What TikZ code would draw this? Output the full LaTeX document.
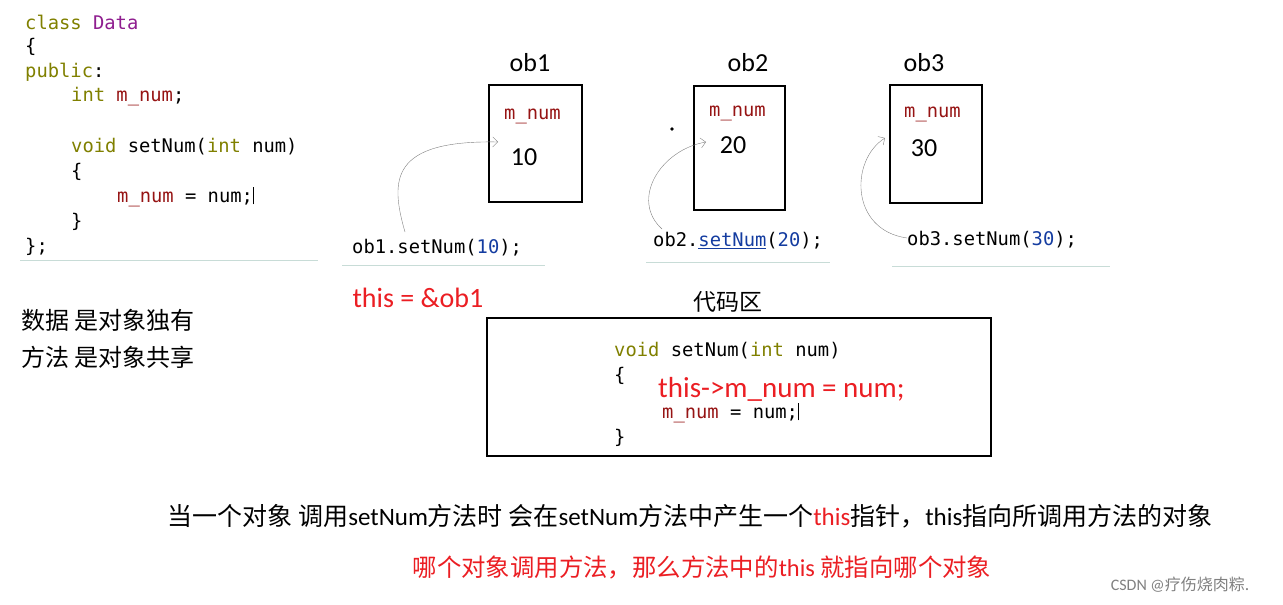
\documentclass[tikz,border=0pt]{standalone}
\usepackage{fontspec}
\setmainfont{Carlito}
\setmonofont{DejaVu Sans Mono}
\newfontfamily\cjk{Noto Sans CJK SC}
\usetikzlibrary{arrows.meta}
\definecolor{kw}{RGB}{128,128,0}
\definecolor{cls}{RGB}{143,30,143}
\definecolor{var}{RGB}{150,20,20}
\definecolor{lit}{RGB}{20,60,160}
\definecolor{hl}{RGB}{235,30,35}
\definecolor{rule}{RGB}{200,220,215}
\newcommand{\cf}{\ttfamily\fontsize{18.8pt}{18.8pt}\selectfont}
\newcommand{\zh}[1]{{\cjk #1}}
\begin{document}
\begin{tikzpicture}[x=1pt,y=-1pt]
\tikzset{
  code/.style={anchor=west,inner sep=0pt,font=\cf},
  obj/.style={draw,line width=1.6pt},
  title/.style={font=\fontsize{26pt}{26pt}\selectfont},
  call/.style={draw=gray,thin,-{Straight Barb[length=5pt]}},
  under/.style={draw=rule,line width=1pt}}
\useasboundingbox (0,0) rectangle (1283,605);
% class code
\node[code] (c1) at (25,22) {\textcolor{kw}{class} \textcolor{cls}{Data}};
\node[code] (c2) at (25,47) {\{};
\node[code] (c3) at (25,72) {\textcolor{kw}{public}:};
\node[code] (c4) at (71,97) {\textcolor{kw}{int} \textcolor{var}{m\_num};};
\node[code] (c5) at (71,147) {\textcolor{kw}{void} setNum(\textcolor{kw}{int} num)};
\node[code] (c6) at (71,172) {\{};
\node[code] (c7) at (117,197) {\textcolor{var}{m\_num} = num;\rule[-2pt]{1pt}{17pt}};
\node[code] (c8) at (71,222) {\}};
\node[code] (c9) at (25,247) {\};};
\coordinate (u1) at (20,260); \coordinate (u2) at (318,260);
\draw[under] (u1) -- (u2);
% objects
\node[obj,minimum width=93pt,minimum height=117pt] (ob1) at (535.5,143.5) {};
\node[obj,minimum width=91pt,minimum height=124pt] (ob2) at (739.5,148) {};
\node[obj,minimum width=92pt,minimum height=118pt] (ob3) at (936,144) {};
\node[title] (t1) at (530,63) {ob1};
\node[title] (t2) at (748,63) {ob2};
\node[title] (t3) at (924,63) {ob3};
\node[code] (m1) at (504,116) {\textcolor{var}{m\_num}};
\node[code] (m2) at (709,113) {\textcolor{var}{m\_num}};
\node[code] (m3) at (904,114) {\textcolor{var}{m\_num}};
\node[title] (v1) at (524,157) {10};
\node[title] (v2) at (733,145) {20};
\node[title] (v3) at (924,148) {30};
\node[fill,circle,inner sep=1.3pt] (dot) at (672,129) {};
% calls
\node[code] (k1) at (352,248) {ob1.setNum(\textcolor{lit}{10});};
\node[code] (k2) at (653,241) {ob2.\textcolor{lit}{\underline{setNum}}(\textcolor{lit}{20});};
\node[code] (k3) at (907,240) {ob3.setNum(\textcolor{lit}{30});};
\coordinate (u3) at (342,265); \coordinate (u4) at (545,265);
\coordinate (u5) at (646,262); \coordinate (u6) at (830,262);
\coordinate (u7) at (892,266); \coordinate (u8) at (1110,266);
\draw[under] (u3) -- (u4);
\draw[under] (u5) -- (u6);
\draw[under] (u7) -- (u8);
\coordinate (a1) at (405,232); \coordinate (b1) at (498,142);
\coordinate (a2) at (662,229); \coordinate (b2) at (706,142);
\coordinate (a3) at (907,238); \coordinate (b3) at (885,138);
\draw[call] (a1) .. controls (390,180) and (390,140) .. (b1);
\draw[call] (a2) .. controls (630,200) and (660,150) .. (b2);
\draw[call] (a3) .. controls (850,230) and (850,160) .. (b3);
\node[font=\fontsize{28pt}{28pt}\selectfont,text=hl] (this) at (418,298) {this = \&ob1};
% notes
\node[anchor=west,font=\fontsize{24pt}{24pt}\cjk] (n1) at (18,320) {数据 是对象独有};
\node[anchor=west,font=\fontsize{24pt}{24pt}\cjk] (n2) at (18,357) {方法 是对象共享};
% code area
\node[font=\fontsize{23pt}{23pt}\cjk] (area) at (728,302) {代码区};
\node[obj,minimum width=504pt,minimum height=138pt] (box) at (739,387) {};
\node[code] (d1) at (614,351) {\textcolor{kw}{void} setNum(\textcolor{kw}{int} num)};
\node[code] (d2) at (614,376) {\{};
\node[code,font=\fontsize{29pt}{29pt}\selectfont,text=hl] (d3) at (658,389) {this->m\_num = num;};
\node[code] (d4) at (662,413) {\textcolor{var}{m\_num} = num;\rule[-2pt]{1pt}{17pt}};
\node[code] (d5) at (614,438) {\}};
% explanation
\node[font=\fontsize{25pt}{25pt}\selectfont] (e1) at (690,516) {\zh{当一个对象 调用}setNum\zh{方法时 会在}setNum\zh{方法中产生一个}\textcolor{hl}{this}\zh{指针，}this\zh{指向所调用方法的对象}};
\node[font=\fontsize{24.4pt}{24.4pt}\selectfont,text=hl] (e2) at (702,567) {\zh{哪个对象调用方法，那么方法中的}this \zh{就指向哪个对象}};
\node[font=\fontsize{16pt}{16pt}\selectfont,text=gray] (wm) at (1180,585) {CSDN @\zh{疗伤烧肉粽.}};
\end{tikzpicture}
\end{document}
